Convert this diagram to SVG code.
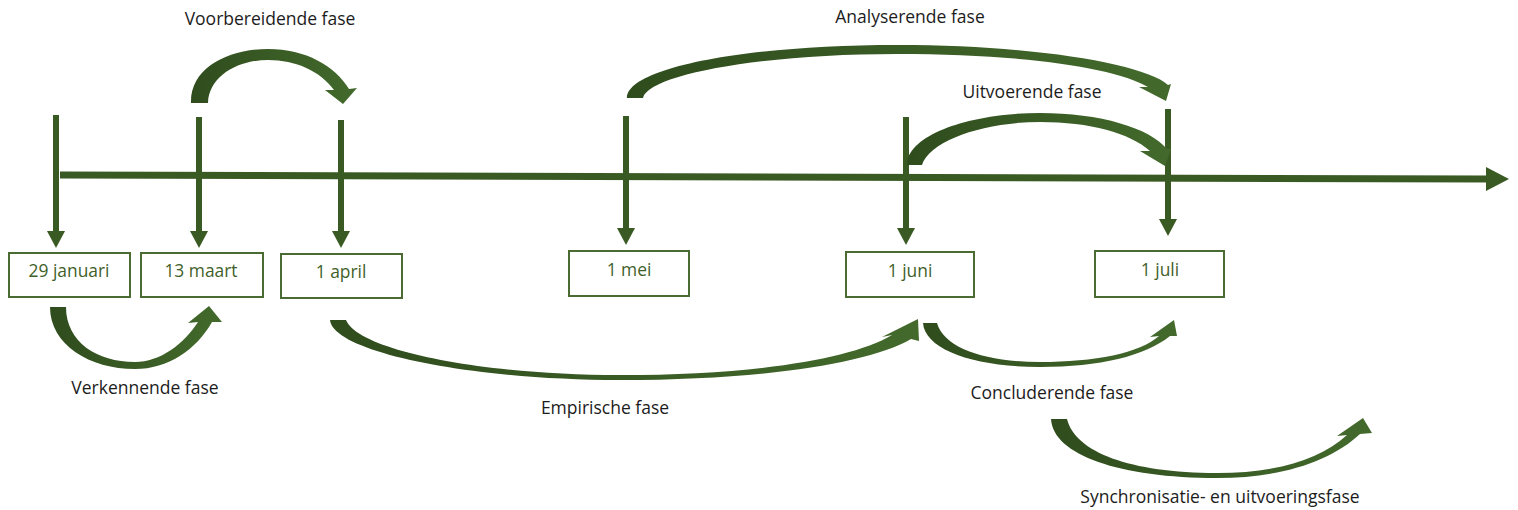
<svg xmlns="http://www.w3.org/2000/svg" xmlns:xlink="http://www.w3.org/1999/xlink" width="1518" height="510" viewBox="0 0 1518 510">
  <defs>
    <style>
      .axis { stroke: #3a5a24; stroke-width: 7; fill: none; }
      .tick { stroke: #3a5a24; stroke-width: 6; fill: none; }
      .head { fill: #3a5a24; }
      .phase { stroke: none; }
      .box rect { fill: #ffffff; stroke: #4a6c33; stroke-width: 2; }
      .box text { font-family: "Open Sans", "Liberation Sans", sans-serif; font-size: 17.4px; fill: #3f5f2a; text-anchor: middle; }
      .label { font-family: "Open Sans", "Liberation Sans", sans-serif; font-size: 17.5px; fill: #1c1c1c; text-anchor: middle; }
    </style>
    <linearGradient id="bandL2R" x1="0" y1="0" x2="1" y2="0">
      <stop offset="0" stop-color="#2f4c1d"/>
      <stop offset="1" stop-color="#436a2c"/>
    </linearGradient>
    <path id="vhead" d="M-9,0 L9,0 L0,17 Z"/>
  </defs>

  <rect width="1518" height="510" fill="#ffffff"/>

  <!-- connectors: timeline, date markers and phase arcs -->
  <g id="connectors">
    <!-- timeline -->
    <line class="axis" x1="60" y1="175" x2="1488" y2="179"/>
    <polygon class="head" points="1486,167 1509,179 1486,191"/>

    <!-- date markers -->
    <line class="tick" x1="56" y1="115" x2="56" y2="232"/>
    <use href="#vhead" class="head" x="56" y="231"/>
    <line class="tick" x1="199" y1="117" x2="199" y2="232"/>
    <use href="#vhead" class="head" x="199" y="231"/>
    <line class="tick" x1="341" y1="120" x2="341" y2="232"/>
    <use href="#vhead" class="head" x="341" y="231"/>
    <line class="tick" x1="626" y1="116" x2="626" y2="229"/>
    <use href="#vhead" class="head" x="626" y="228"/>
    <line class="tick" x1="906" y1="117" x2="906" y2="229"/>
    <use href="#vhead" class="head" x="906" y="228"/>
    <line class="tick" x1="1168" y1="109" x2="1168" y2="220"/>
    <use href="#vhead" class="head" x="1168" y="219"/>

    <!-- phase arcs above the timeline -->
    <path id="arc-voorbereidend" class="phase" fill="url(#bandL2R)" d="M191,103 C190,68 228,49 268,49 C306,49 335,66 349,89 L357,88 L343,104 L325,90 L334,90 C320,71 296,60 268,60 C238,60 209,76 208,103 Z"/>
    <path id="arc-analyserend" class="phase" fill="url(#bandL2R)" d="M627,98 C627,68 745,45 897,45 C1035,45 1145,64 1168,85 L1171,84 L1166,101 L1139,87 L1148,87 C1115,67 1020,54 897,54 C760,54 648,75 643,98 Z"/>
    <path id="arc-uitvoerend" class="phase" fill="url(#bandL2R)" d="M907,165 C907,135 970,113 1040,113 C1100,113 1150,128 1167,149 L1171,149 L1165,166 L1140,151 L1150,151 C1130,133 1090,122 1040,122 C985,122 930,140 922,165 Z"/>

    <!-- phase arcs below the date boxes -->
    <path id="arc-verkennend" class="phase" fill="url(#bandL2R)" d="M50,307 C50,345 90,369 135,369 C168,369 196,350 212,322 L222,322 L209,306 L188,323 L198,322 C184,344 160,362 135,362 C97,362 66,342 66,307 Z"/>
    <path id="arc-empirisch" class="phase" fill="url(#bandL2R)" d="M330,320 C333,352 470,380 620,380 C760,380 868,364 911,339 L919,341 L918,319 L882,337 L892,335 C850,360 750,375 620,375 C480,375 358,350 346,320 Z"/>
    <path id="arc-concluderend" class="phase" fill="url(#bandL2R)" d="M923,323 C925,350 975,367 1040,367 C1100,367 1145,356 1170,336 L1177,336 L1174,320 L1150,337 L1159,336 C1140,353 1095,362 1040,362 C985,362 944,348 937,323 Z"/>
    <path id="arc-synchronisatie" class="phase" fill="url(#bandL2R)" d="M1051,419 C1053,455 1120,478 1217,478 C1280,478 1330,462 1360,434 L1372,433 L1363,418 L1337,436 L1347,435 C1320,460 1275,473 1217,473 C1130,473 1075,452 1067,419 Z"/>
  </g>

  <!-- date boxes -->
  <g id="date-29-januari" class="box">
    <rect x="9" y="253" width="121" height="44"/>
    <text x="69" y="277">29 januari</text>
  </g>
  <g id="date-13-maart" class="box">
    <rect x="141" y="253" width="122" height="44"/>
    <text x="201" y="277">13 maart</text>
  </g>
  <g id="date-1-april" class="box">
    <rect x="281" y="254" width="121" height="44"/>
    <text x="341" y="278">1 april</text>
  </g>
  <g id="date-1-mei" class="box">
    <rect x="569" y="251" width="120" height="45"/>
    <text x="629" y="276">1 mei</text>
  </g>
  <g id="date-1-juni" class="box">
    <rect x="846" y="252" width="128" height="45"/>
    <text x="910" y="277">1 juni</text>
  </g>
  <g id="date-1-juli" class="box">
    <rect x="1095" y="251" width="129" height="46"/>
    <text x="1160" y="276">1 juli</text>
  </g>

  <!-- phase labels -->
  <g id="phase-labels">
    <text class="label" x="270" y="25">Voorbereidende fase</text>
    <text class="label" x="910" y="23">Analyserende fase</text>
    <text class="label" x="1032" y="98">Uitvoerende fase</text>
    <text class="label" x="145" y="394">Verkennende fase</text>
    <text class="label" x="605" y="414">Empirische fase</text>
    <text class="label" x="1052" y="399">Concluderende fase</text>
    <text class="label" x="1220" y="503">Synchronisatie- en uitvoeringsfase</text>
  </g>
</svg>
